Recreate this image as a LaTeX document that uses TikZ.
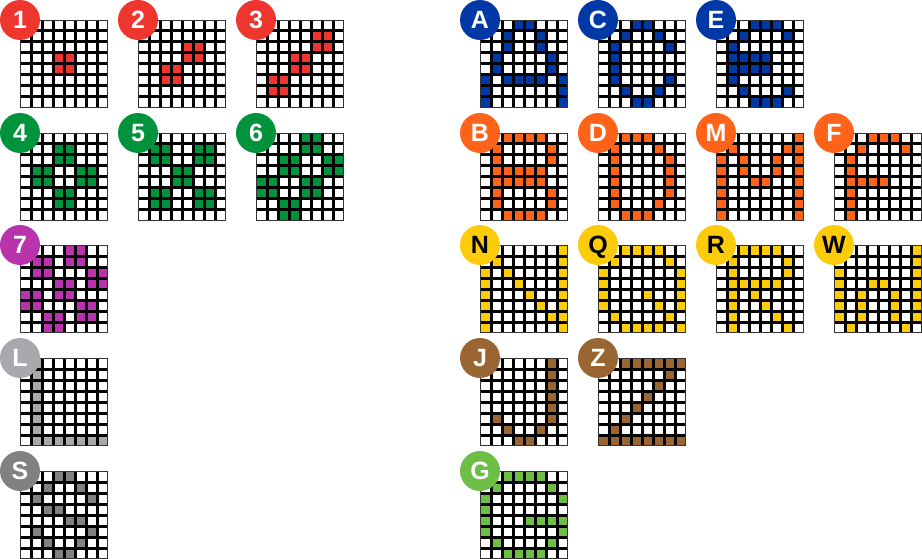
\documentclass[tikz,border=0pt]{standalone}
\usepackage{fontspec}
\setmainfont{Liberation Sans}
\definecolor{cred}{HTML}{EE352E}
\definecolor{cgreen}{HTML}{00933C}
\definecolor{cpurple}{HTML}{B933AD}
\definecolor{clgray}{HTML}{A7A9AC}
\definecolor{cdgray}{HTML}{808183}
\definecolor{cblue}{HTML}{0039A6}
\definecolor{corange}{HTML}{FF6319}
\definecolor{cyellow}{HTML}{FCCC0A}
\definecolor{cbrown}{HTML}{996633}
\definecolor{clime}{HTML}{6CBE45}
\tikzset{
  badge/.style={circle,fill=#1,minimum size=40pt,inner sep=0pt,text=white,font=\fontsize{25}{25}\selectfont\bfseries,text height=17.9pt,text depth=0pt},
  darkbadge/.style={badge=#1,text=black},
  gridv/.style={draw=black,line width=3pt},
  gridh/.style={draw=black,line width=3pt},
  gridedge/.style={draw=black!80,line width=1.2pt}
}
\begin{document}
\begin{tikzpicture}[x=1pt,y=-1pt]
\useasboundingbox (0,0) rectangle (922,559);
\newcommand{\cellgrid}[7]{%
  \begin{scope}[shift={(#3,#4)}]
    \foreach \r/\cs in {#7}{\foreach \c in \cs{\fill[#5] ({\c*11},{\r*11}) rectangle ++(11,11);}}
    \path[gridv] (11,0) -- (11,88) (22,0) -- (22,88) (33,0) -- (33,88) (44,0) -- (44,88)
      (55,0) -- (55,88) (66,0) -- (66,88) (77,0) -- (77,88);
    \path[gridh] (0,11) -- (88,11) (0,22) -- (88,22) (0,33) -- (88,33) (0,44) -- (88,44)
      (0,55) -- (88,55) (0,66) -- (88,66) (0,77) -- (88,77);
    \path[gridedge] (0.5,0.5) rectangle (87.5,87.5);
    \node[#6=#5] (#1) at (0,0) {#2};
  \end{scope}
}
\cellgrid{n1}{1}{20}{20}{cred}{badge}{3/{3,4},4/{3,4}}
\cellgrid{n2}{2}{138}{20}{cred}{badge}{2/{4,5},3/{4,5},4/{2,3},5/{2,3}}
\cellgrid{n3}{3}{256}{20}{cred}{badge}{1/{5,6},2/{5,6},3/{3,4},4/{3,4},5/{1,2},6/{1,2}}
\cellgrid{n4}{4}{20}{133}{cgreen}{badge}{1/{3,4},2/{3,4},3/{1,2,5,6},4/{1,2,5,6},5/{3,4},6/{3,4}}
\cellgrid{n5}{5}{138}{133}{cgreen}{badge}{1/{1,2,5,6},2/{1,2,5,6},3/{3,4},4/{3,4},5/{1,2,5,6},6/{1,2,5,6}}
\cellgrid{n6}{6}{256}{133}{cgreen}{badge}{0/{4,5},1/{4,5},2/{2,3,6,7},3/{2,3,6,7},4/{0,1,4,5},5/{0,1,4,5},6/{2,3},7/{2,3}}
\cellgrid{n7}{7}{20}{245}{cpurple}{badge}{0/{4,5},1/{1,2,4,5},2/{1,2,6,7},3/{3,4,6,7},4/{0,1,3,4},5/{0,1,5,6},6/{2,3,5,6},7/{2,3}}
\cellgrid{nL}{L}{20}{358}{clgray}{badge}{0/{1},1/{1},2/{1},3/{1},4/{1},5/{1},6/{1},7/{1,2,3,4,5,6,7}}
\cellgrid{nS}{S}{20}{471}{cdgray}{badge}{0/{3,4},1/{2,5},2/{1,6},3/{2,3},4/{4,5},5/{1,6},6/{2,5},7/{3,4}}
\cellgrid{nA}{A}{480}{20}{cblue}{badge}{0/{3,4},1/{2,5},2/{2,5},3/{1,6},4/{1,6},5/{0,2,3,4,5,7},6/{0,7},7/{0,7}}
\cellgrid{nC}{C}{598}{20}{cblue}{badge}{0/{3,4},1/{2,5},2/{1,6},3/{1},4/{1},5/{1,6},6/{2,5},7/{3,4}}
\cellgrid{nE}{E}{716}{20}{cblue}{badge}{0/{3,4,5},1/{2,6},2/{1},3/{1,2,3,4},4/{1,2,3,4},5/{1},6/{2,6},7/{3,4,5}}
\cellgrid{nB}{B}{480}{133}{corange}{badge}{0/{2,3,4,5},1/{1,6},2/{1,6},3/{1,2,3,4,5},4/{1,2,3,4,5},5/{1,6},6/{1,6},7/{2,3,4,5}}
\cellgrid{nD}{D}{598}{133}{corange}{badge}{0/{2,3,4},1/{1,5},2/{1,6},3/{1,6},4/{1,6},5/{1,6},6/{1,5},7/{2,3,4}}
\cellgrid{nM}{M}{716}{133}{corange}{badge}{0/{7},1/{1,6,7},2/{0,2,5,7},3/{0,2,5,7},4/{0,3,4,7},5/{0,7},6/{0,7},7/{0,7}}
\cellgrid{nF}{F}{834}{133}{corange}{badge}{0/{3,4,5},1/{2,6},2/{1},3/{1},4/{1,2,3,4},5/{1},6/{1},7/{1}}
\cellgrid{nN}{N}{480}{245}{cyellow}{darkbadge}{0/{7},1/{1,7},2/{0,2,7},3/{0,3,7},4/{0,4,7},5/{0,5,7},6/{0,6,7},7/{0,7}}
\cellgrid{nQ}{Q}{598}{245}{cyellow}{darkbadge}{0/{2,3,4,5},1/{1,6},2/{0,7},3/{0,7},4/{0,4,7},5/{0,5,7},6/{1,6},7/{2,3,4,5,7}}
\cellgrid{nR}{R}{716}{245}{cyellow}{darkbadge}{0/{2,3,4,5},1/{1,6},2/{1,6},3/{1,2,3,4,5},4/{1,3},5/{1,4},6/{1,5},7/{1,6}}
\cellgrid{nW}{W}{834}{245}{cyellow}{darkbadge}{0/{7},1/{7},2/{0,7},3/{0,3,4,7},4/{0,2,5,7},5/{0,2,5,7},6/{0,2,5,7},7/{1,6}}
\cellgrid{nJ}{J}{480}{358}{cbrown}{badge}{0/{6},1/{6},2/{6},3/{6},4/{6},5/{1,6},6/{2,5},7/{3,4}}
\cellgrid{nZ}{Z}{598}{358}{cbrown}{badge}{0/{2,3,4,5,6,7},1/{6},2/{5},3/{4},4/{3},5/{2},6/{1},7/{0,1,2,3,4,5,6,7}}
\cellgrid{nG}{G}{480}{471}{clime}{badge}{0/{2,3,4,5},1/{1,6},2/{0,7},3/{0},4/{0,4,5,6,7},5/{0,7},6/{1,6},7/{2,3,4,5}}
\end{tikzpicture}
\end{document}
